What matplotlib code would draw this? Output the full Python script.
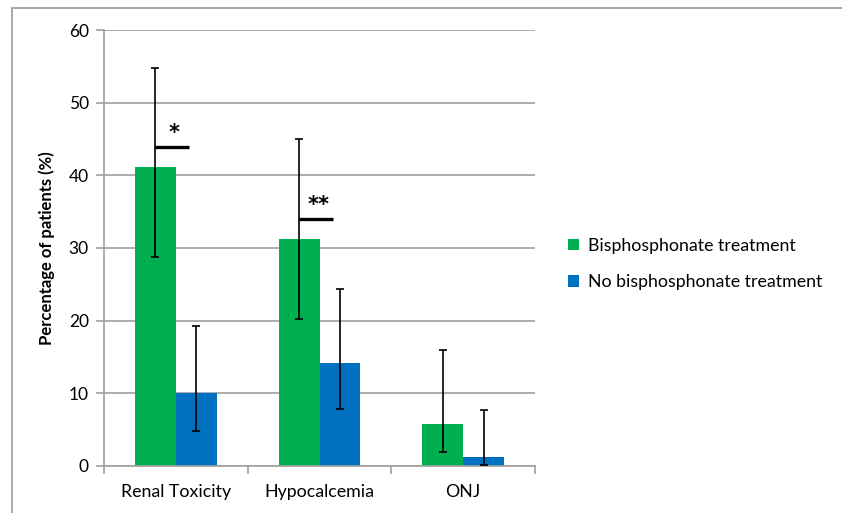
import matplotlib
matplotlib.use("Agg")
import matplotlib.pyplot as plt
from matplotlib.patches import Rectangle
import numpy as np

plt.rcParams['font.family'] = ['Lato', 'DejaVu Sans']

# data
categories = ['Renal Toxicity', 'Hypocalcemia', 'ONJ']
series_names = ['Bisphosphonate treatment', 'No bisphosphonate treatment']
bisphos = [41.2, 31.3, 5.8]
bisphos_lo = [28.7, 20.2, 1.9]
bisphos_hi = [54.8, 45.0, 15.9]
no_bisphos = [10.0, 14.2, 1.3]
no_bisphos_lo = [4.8, 7.8, 0.2]
no_bisphos_hi = [19.2, 24.3, 7.7]
sig_levels = [43.9, 34.0]
sig_labels = ['*', '**']

green = '#00b050'
blue = '#0070c0'
grey = '#a0a0a0'

fig = plt.figure(figsize=(8.42, 5.13), dpi=100)
ax = fig.add_axes([104/842, 47/513, 431/842, 436/513])

# outer chart frame
fig.patches.append(Rectangle((12/842, -0.1), 1.2, (513-8)/513 + 0.1,
                             transform=fig.transFigure, fill=False,
                             edgecolor='#9a9a9a', lw=1.2))

x = np.arange(len(categories))
w = 0.285

ax.bar(x - w/2, bisphos, w, color=green, label=series_names[0], zorder=2)
ax.bar(x + w/2, no_bisphos, w, color=blue, label=series_names[1], zorder=2)

err_g = [np.array(bisphos) - np.array(bisphos_lo), np.array(bisphos_hi) - np.array(bisphos)]
err_b = [np.array(no_bisphos) - np.array(no_bisphos_lo), np.array(no_bisphos_hi) - np.array(no_bisphos)]
ax.errorbar(x - w/2, bisphos, yerr=err_g, fmt='none', ecolor='black', elinewidth=1.2,
            capsize=3, capthick=1.2, zorder=3)
ax.errorbar(x + w/2, no_bisphos, yerr=err_b, fmt='none', ecolor='black', elinewidth=1.2,
            capsize=3, capthick=1.2, zorder=3)

# significance markers
for i, (lvl, lab) in enumerate(zip(sig_levels, sig_labels)):
    ax.plot([x[i] - w/2, x[i] + 0.095], [lvl, lvl], color='black', lw=2.4, zorder=4,
            solid_capstyle='butt')
    ax.text(x[i] - 0.01, lvl + 0.6, lab, ha='center', va='bottom', fontsize=15,
            fontweight='bold', family='DejaVu Sans', zorder=4)

ax.set_xlim(-0.5, len(categories) - 0.5)
ax.set_ylim(0, 60)
ax.set_yticks(range(0, 61, 10))
ax.set_xticks(x)
ax.set_xticklabels(categories, fontsize=12.8)
ax.set_xticks(np.arange(-0.5, len(categories), 1), minor=True)
ax.tick_params(axis='x', which='major', length=0, pad=13)
ax.tick_params(axis='x', which='minor', length=6, color=grey, width=1.2, direction='out')
ax.tick_params(axis='y', length=6, color=grey, width=1.2, labelsize=12.5, pad=5)

ax.yaxis.grid(True, color=grey, lw=1.2, zorder=0)
ax.set_axisbelow(True)
for side in ['top', 'right']:
    ax.spines[side].set_visible(False)
for side in ['left', 'bottom']:
    ax.spines[side].set_color(grey)
    ax.spines[side].set_linewidth(1.2)

ax.set_ylabel('Percentage of patients (%)', fontsize=12, fontweight='bold', labelpad=10)

ax.legend(loc='center left', bbox_to_anchor=(1.04, 0.463), frameon=False, fontsize=12.8,
          handlelength=0.6, handleheight=0.6, handletextpad=0.5, labelspacing=1.15)

fig.savefig('out.png', dpi=100)
